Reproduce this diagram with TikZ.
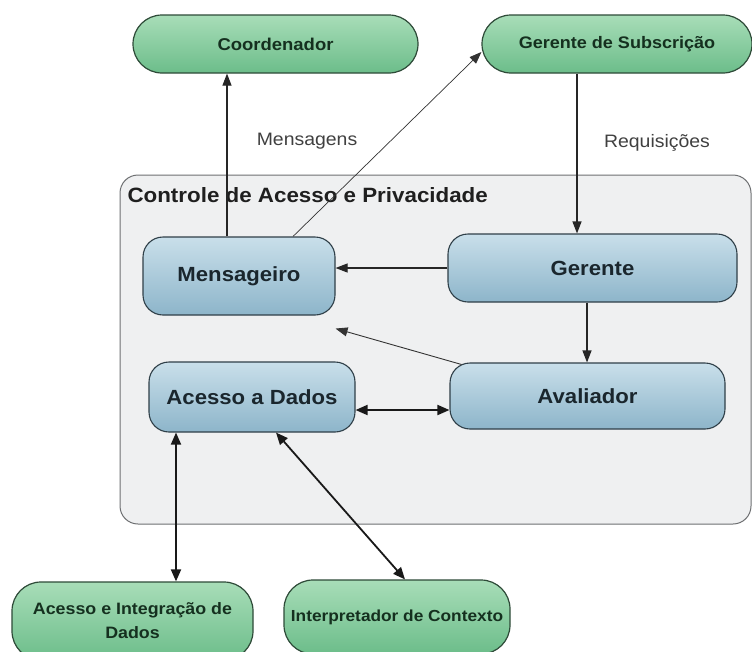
\documentclass[tikz,border=0pt]{standalone}
\usepackage{fontspec}
\setmainfont{Liberation Sans}[FakeStretch=1.08]
\usetikzlibrary{arrows.meta}
\definecolor{gborder}{HTML}{2E4A38}
\definecolor{gtop}{HTML}{A8DDB8}
\definecolor{gbot}{HTML}{6CBD8A}
\definecolor{btop}{HTML}{C9DFEA}
\definecolor{bbot}{HTML}{8DB5CA}
\definecolor{bborder}{HTML}{2F3F48}
\definecolor{gtext}{HTML}{15301F}
\definecolor{btext}{HTML}{1A262D}
\definecolor{boxfill}{HTML}{EFF0F1}
\definecolor{boxline}{HTML}{6E7072}
\definecolor{lbl}{HTML}{404040}
\tikzset{
  extnode/.style={draw=gborder, line width=1.2pt, top color=gtop, bottom color=gbot,
    rounded corners=29pt, text=gtext, align=center, inner sep=0pt},
  intnode/.style={draw=bborder, line width=1.1pt, top color=btop, bottom color=bbot,
    rounded corners=20pt, font=\bfseries\fontsize{20.5}{24}\selectfont, text=btext,
    inner sep=0pt},
  conn/.style={draw=black!85, line width=1.1pt, -{Triangle[length=12pt,width=9pt]}},
  thinconn/.style={draw=black!80, line width=0.7pt, -{Triangle[length=12pt,width=9pt]}},
  dbl/.style={draw=black!90, line width=1.8pt, {Triangle[length=12pt,width=10pt]}-{Triangle[length=12pt,width=10pt]}},
  lab/.style={font=\fontsize{18}{21}\selectfont, text=lbl}
}
\begin{document}
\begin{tikzpicture}[x=1pt,y=-1pt]
\useasboundingbox (0,0) rectangle (752,651);
\fill[white] (0,0) rectangle (752,651);
% container
\node[draw=boxline, line width=1pt, fill=boxfill, rounded corners=18pt,
      minimum width=631pt, minimum height=349pt, inner sep=0pt] (box) at (435.5,349.5) {};
\node[anchor=west, font=\bfseries\fontsize{20.7}{24}\selectfont, text=black!88] (title) at (124,195) {Controle de Acesso e Privacidade};
% external nodes
\node[extnode, font=\bfseries\fontsize{17.1}{20}\selectfont, minimum width=285pt, minimum height=58pt] (coord) at (275.5,44) {Coordenador};
\node[extnode, font=\bfseries\fontsize{16.7}{20}\selectfont, minimum width=270pt, minimum height=58pt] (gsub) at (617,44) {Gerente de Subscrição};
\node[extnode, font=\bfseries\fontsize{16.5}{19}\selectfont, minimum width=241pt, minimum height=78pt] (aid) at (132.5,621) {Acesso e Integração de\\[5pt]Dados};
\node[extnode, font=\bfseries\fontsize{16}{19}\selectfont, minimum width=226pt, minimum height=74pt] (interp) at (397,617) {Interpretador de Contexto};
% internal nodes
\node[intnode, minimum width=192pt, minimum height=78pt] (mens) at (239,276) {Mensageiro};
\node[intnode, minimum width=289pt, minimum height=68pt] (ger) at (592.5,268) {Gerente};
\node[intnode, minimum width=206pt, minimum height=70pt] (acd) at (252,397) {Acesso a Dados};
\node[intnode, minimum width=275pt, minimum height=66pt] (aval) at (587.5,396) {Avaliador};
% connectors
\draw[conn] (mens.north -| 227,0) -- (coord.south -| 227,0);
\draw[thinconn] ([xshift=54pt]mens.north) -- (gsub.west |- 0,52);
\draw[conn] (gsub.south -| 577,0) -- (ger.north -| 577,0);
\draw[conn] (ger.west |- 0,268) -- (mens.east |- 0,268);
\draw[conn] (ger.south -| 587,0) -- (aval.north -| 587,0);
\draw[thinconn, line width=0.9pt] ([xshift=12pt,yshift=-2pt]aval.north west) -- ([yshift=-13pt]mens.south east);
\draw[dbl] (acd.east |- 0,410) -- (aval.west |- 0,410);
\draw[dbl] (aid.north -| 176,0) -- (acd.south -| 176,0);
\draw[dbl] (interp.north -| 405,0) -- (acd.south -| 276,0);
% labels
\node[lab] (lmens) at (307,141) {Mensagens};
\node[lab] (lreq) at (657,143) {Requisições};
\end{tikzpicture}
\end{document}
